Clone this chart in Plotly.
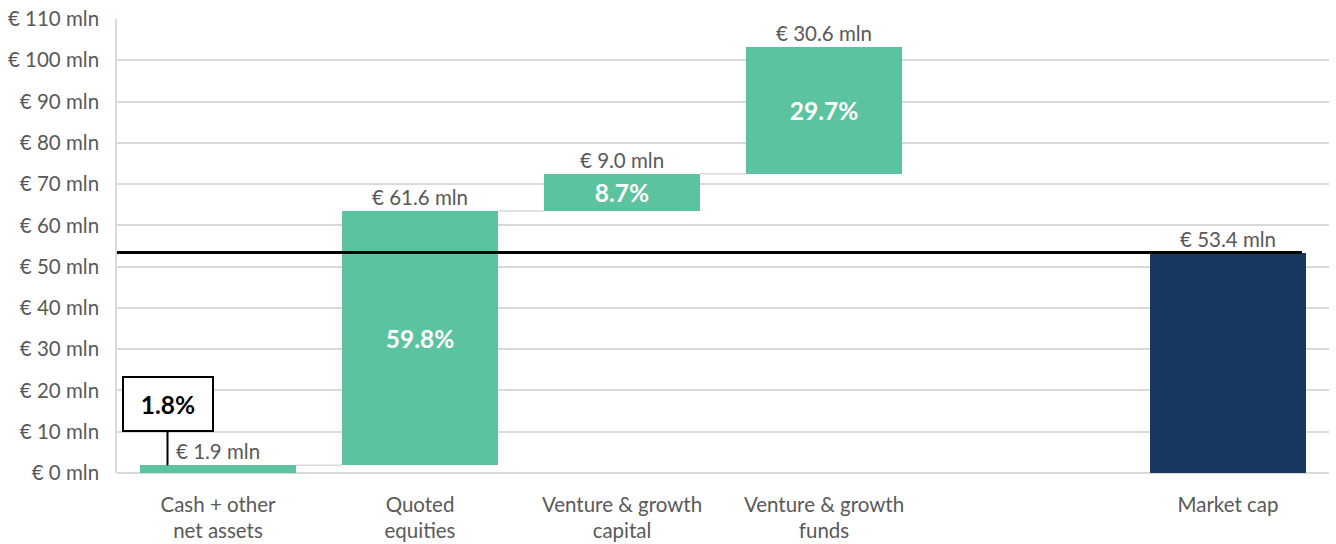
import plotly.graph_objects as go

categories = ["Cash + other<br>net assets", "Quoted<br>equities", "Venture & growth<br>capital",
              "Venture & growth<br>funds", "", "Market cap"]
steps = [1.9, 61.6, 9.0, 30.6]
market_cap = 53.4
shares = ["1.8%", "59.8%", "8.7%", "29.7%"]
value_labels = ["€ 1.9 mln", "€ 61.6 mln", "€ 9.0 mln", "€ 30.6 mln"]
cap_label = "€ 53.4 mln"
y_ticks = list(range(0, 111, 10))
y_tick_text = [f"€ {v} mln" for v in y_ticks]

GREEN = "#5CC3A0"
NAVY = "#17375E"
GREY_TXT = "#595959"
GRID = "#D9D9D9"
FONT = "Lato"
FS = 20.5
FS_B = 24.5
BAR_W = 0.772

xs = list(range(len(categories)))
bases, tops = [], []
cum = 0.0
for v in steps:
    bases.append(cum)
    cum += v
    tops.append(cum)

fig = go.Figure()
inside_text = [""] + shares[1:]
fig.add_trace(go.Bar(
    x=xs[:4], y=steps, base=bases, width=BAR_W,
    marker=dict(color=GREEN, line=dict(width=0)),
    text=inside_text, textposition="inside", insidetextanchor="middle",
    textfont=dict(color="white", size=FS_B, family=FONT, weight="bold"),
    constraintext="none", hoverinfo="skip", showlegend=False,
))
fig.add_trace(go.Bar(
    x=[xs[5]], y=[market_cap], base=[0], width=BAR_W,
    marker=dict(color=NAVY, line=dict(width=0)),
    hoverinfo="skip", showlegend=False,
))

shapes = []
for i in range(3):
    shapes.append(dict(type="line", xref="x", yref="y",
                       x0=xs[i] + BAR_W / 2, x1=xs[i + 1] - BAR_W / 2,
                       y0=tops[i], y1=tops[i], line=dict(color=GRID, width=1.5), layer="below"))
shapes.append(dict(type="line", xref="x", yref="y", x0=-0.5, x1=xs[5] + BAR_W / 2 - 0.02,
                   y0=market_cap, y1=market_cap, line=dict(color="black", width=3)))

annotations = []
for i in range(4):
    annotations.append(dict(x=xs[i], y=tops[i], text=value_labels[i], showarrow=False,
                            yanchor="bottom", yshift=0,
                            font=dict(size=FS, color=GREY_TXT, family=FONT)))
annotations.append(dict(x=xs[5], y=market_cap, text=cap_label, showarrow=False,
                        yanchor="bottom", yshift=0,
                        font=dict(size=FS, color=GREY_TXT, family=FONT)))
annotations.append(dict(x=xs[0] - 0.25, y=tops[0], text="<b>" + shares[0] + "</b>",
                        showarrow=True, arrowhead=0, arrowwidth=2, arrowcolor="black",
                        ax=0, ay=-61, axref="pixel", ayref="pixel",
                        bordercolor="black", borderwidth=2, borderpad=1, bgcolor="white",
                        width=86, height=50,
                        font=dict(size=FS_B, color="black", family=FONT)))

fig.update_layout(
    width=1336, height=544,
    margin=dict(l=117, r=7, t=19, b=71, autoexpand=False),
    paper_bgcolor="white", plot_bgcolor="white",
    bargap=0, barmode="overlay",
    shapes=shapes, annotations=annotations,
    font=dict(family=FONT, size=FS, color=GREY_TXT),
    xaxis=dict(range=[-0.5, 5.5], tickmode="array", tickvals=xs, ticktext=categories,
               showgrid=False, zeroline=False, showline=False, ticks="", automargin=False,
               ticklabeloverflow="allow",
               ticklabelstandoff=17, tickfont=dict(size=FS, color=GREY_TXT, family=FONT)),
    yaxis=dict(range=[0, 110], tickmode="array", tickvals=y_ticks, ticktext=y_tick_text,
               showgrid=True, gridcolor=GRID, gridwidth=1.5, zeroline=True,
               zerolinecolor=GRID, zerolinewidth=1.5, automargin=False,
               ticklabeloverflow="allow",
               showline=True, linecolor=GRID, linewidth=1.5, ticks="",
               ticklabelstandoff=12, tickfont=dict(size=FS, color=GREY_TXT, family=FONT)),
)

fig.write_html("out.html", config={"displayModeBar": False},
               post_script="document.body.style.margin='0px';")
